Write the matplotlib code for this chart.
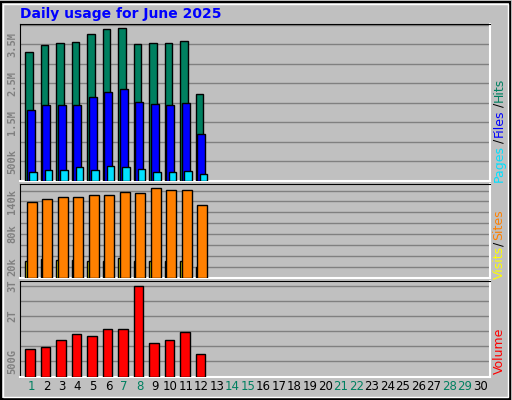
import matplotlib
matplotlib.use("Agg")
import matplotlib.pyplot as plt
from matplotlib.patches import Rectangle

days = list(range(1, 13))
all_days = list(range(1, 31))
weekends = [1, 7, 8, 14, 15, 21, 22, 28, 29]
hits = [3.30, 3.49, 3.53, 3.56, 3.76, 3.89, 3.91, 3.50, 3.53, 3.53, 3.58, 2.22]   # millions
files = [1.82, 1.95, 1.95, 1.95, 2.15, 2.28, 2.36, 2.02, 1.97, 1.95, 1.99, 1.20]
pages = [0.22, 0.27, 0.27, 0.35, 0.27, 0.38, 0.35, 0.30, 0.22, 0.22, 0.25, 0.17]
sites = [139.7, 145.3, 149, 149, 150.9, 150.9, 156.4, 154.6, 163.9, 160.2, 160.2, 134.1]  # thousands
visits = [30.7, 34.4, 32.5, 32.5, 30.7, 30.7, 36.2, 30.7, 30.7, 30.7, 30.7, 19.5]
volume = [907, 983, 1207, 1407, 1340, 1573, 1573, 3007, 1107, 1207, 1473, 740]  # GB

W, H = 512, 400
fig = plt.figure(figsize=(W/100, H/100), dpi=100)
fig.patch.set_facecolor("#c0c0c0")
fig.add_artist(Rectangle((1/W, 1/H), 509/W, 397/H, transform=fig.transFigure,
                         fill=False, edgecolor="#000000", lw=1.5))
fig.add_artist(Rectangle((3/W, 3/H), 505/W, 393/H, transform=fig.transFigure,
                         fill=False, edgecolor="#ffffff", lw=1))

def ax_at(top, bottom):
    return fig.add_axes([20/W, (H-bottom)/H, 470/W, (bottom-top)/H])

x0 = 1 + (20-31)/15.5
x1 = 1 + (490-31)/15.5
grey = "#808080"

def style(ax, ymax, grid, ticks, labels):
    ax.set_facecolor("#c0c0c0")
    ax.set_xlim(x0, x1)
    ax.set_ylim(0, ymax)
    for g in grid:
        ax.axhline(g, color="#808080", lw=1, zorder=0)
    ax.set_xticks([])
    ax.set_yticks(ticks)
    ax.set_yticklabels(labels, rotation=90, va="center", color=grey, fontsize=7.5,
                       family="DejaVu Sans Mono", fontweight="bold")
    ax.tick_params(axis="y", length=0, pad=2)
    for s in ["top", "left"]:
        ax.spines[s].set_color("#000000")
    for s in ["bottom", "right"]:
        ax.spines[s].set_color("#ffffff")
        ax.spines[s].set_linewidth(1.5)

kw = dict(edgecolor="black", linewidth=1, zorder=3)
ax1 = ax_at(24, 181)
style(ax1, 4.02, [0.5*i for i in range(1, 9)], [0.5, 1.5, 2.5, 3.5], ["500k", "1.5M", "2.5M", "3.5M"])
ax1.bar([d-0.14 for d in days], hits, width=0.48, color="#008060", **kw)
ax1.bar([d-0.02 for d in days], files, width=0.52, color="#0000ff", **kw)
ax1.bar([d+0.13 for d in days], pages, width=0.48, color="#00e0ff", **kw)

ax2 = ax_at(184, 277.5)
style(ax2, 172, [20*i for i in range(1, 9)], [20, 80, 140], ["20k", "80k", "140k"])
ax2.bar([d-0.31 for d in days], visits, width=0.15, color="#ffff00", **kw)
ax2.bar([d+0.05 for d in days], sites, width=0.645, color="#ff8000", **kw)

ax3 = ax_at(281, 376.5)
style(ax3, 3160, [500*i for i in range(1, 7)], [500, 2000, 3000], ["500G", "2T", "3T"])
ax3.bar([d-0.07 for d in days], volume, width=0.62, color="#ff0000", **kw)

for d in all_days:
    xp = (31 + 15.5*(d-1))/W
    fig.text(xp, 1-387/H, str(d), ha="center", va="center", fontsize=8.5,
             color="#008060" if d in weekends else "#000000")

fig.text(20/W, 1-14/H, "Daily usage for June 2025", color="#0000ff", fontsize=10,
         fontweight="bold", va="center", ha="left")

def rlabel(y, s, c):
    fig.text(499/W, 1-y/H, s, color=c, rotation=90, ha="center", va="center", fontsize=9)

rlabel(163, "Pages", "#00e0ff"); rlabel(141, "/", "#000000")
rlabel(123, "Files", "#0000ff"); rlabel(105, "/", "#000000")
rlabel(90, "Hits", "#008060")
rlabel(262, "Visits", "#ffff00"); rlabel(244, "/", "#000000")
rlabel(225, "Sites", "#ff8000")
rlabel(351, "Volume", "#ff0000")

fig.savefig("out.png", dpi=100, facecolor=fig.get_facecolor())
